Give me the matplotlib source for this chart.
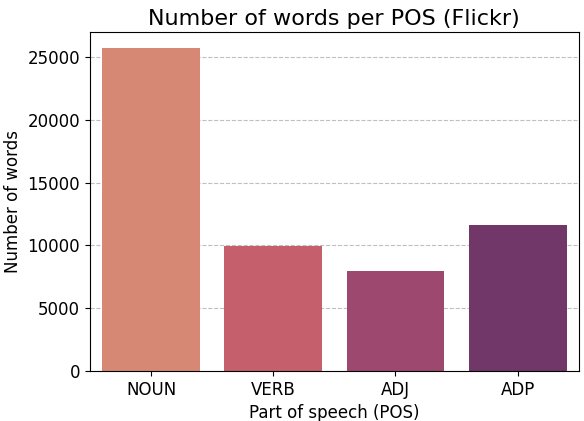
import matplotlib
matplotlib.use("Agg")
import matplotlib.pyplot as plt
import seaborn as sns
import pandas as pd

categories = ["NOUN", "VERB", "ADJ", "ADP"]
counts = [25710, 9980, 7960, 11640]

df = pd.DataFrame({"pos": categories, "count": counts})

fig = plt.figure(figsize=(5.84, 4.21), dpi=100)
ax = fig.add_axes([0.154, 0.119, 0.837, 0.805])
ax.set_axisbelow(True)
ax.yaxis.grid(True, linestyle="--", color="#b8b8b8", linewidth=0.8, alpha=0.9)
sns.barplot(data=df, x="pos", y="count", hue="pos", palette="flare", legend=False, ax=ax)
ax.set_title("Number of words per POS (Flickr)", fontsize=16, pad=5)
ax.set_xlabel("Part of speech (POS)", fontsize=12)
ax.set_ylabel("Number of words", fontsize=12)
ax.tick_params(labelsize=12)
fig.savefig("out.png", dpi=100)
